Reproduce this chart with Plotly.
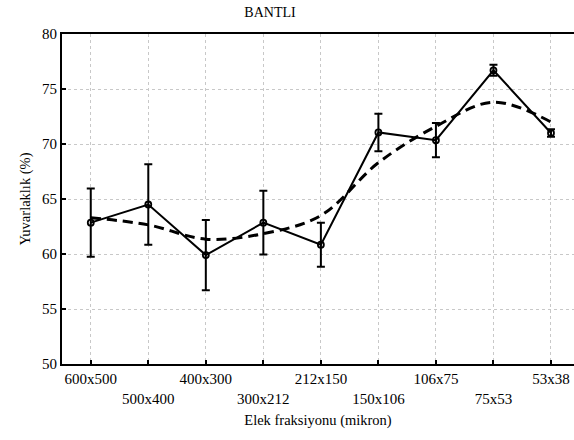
import plotly.graph_objects as go

categories = ["600x500", "500x400", "400x300", "300x212", "212x150",
              "150x106", "106x75", "75x53", "53x38"]
means = [62.85, 64.5, 59.9, 62.85, 60.85, 71.05, 70.35, 76.7, 71.0]
errors = [3.1, 3.65, 3.2, 2.9, 2.0, 1.7, 1.55, 0.5, 0.35]
fit = [63.3, 62.65, 61.35, 61.85, 63.5, 68.3, 71.6, 73.8, 72.0]
y_ticks = [50, 55, 60, 65, 70, 75, 80]

tick_text = [c if i % 2 == 0 else "<br>" + c for i, c in enumerate(categories)]
xs = list(range(len(categories)))

font = "Liberation Serif"

fig = go.Figure()
fig.add_trace(go.Scatter(
    x=xs, y=fit, mode="lines",
    line=dict(color="black", width=3, dash="10px,6px", shape="spline", smoothing=1.0),
    showlegend=False, hoverinfo="skip"))
fig.add_trace(go.Scatter(
    x=xs, y=means, mode="lines+markers",
    line=dict(color="black", width=2),
    marker=dict(symbol="circle-open", size=6, color="black", line=dict(width=1.8)),
    error_y=dict(type="data", array=errors, visible=True, color="black",
                 thickness=2, width=4),
    showlegend=False))

fig.update_layout(
    width=574, height=440,
    margin=dict(l=62, r=0, t=34, b=76),
    paper_bgcolor="white", plot_bgcolor="white",
    font=dict(family=font, size=15, color="black"),
    title=dict(text="BANTLI", x=270 / 574, xanchor="center", xref="container",
               y=1 - 12 / 440, yanchor="middle", yref="container",
               font=dict(family=font, size=14)),
)
fig.update_xaxes(
    range=[-0.5, 8.4], tickmode="array", tickvals=xs, ticktext=tick_text,
    showline=True, linecolor="black", linewidth=2, mirror=True,
    ticks="inside", ticklen=4, tickwidth=2, tickcolor="black",
    showgrid=True, gridcolor="#c8c8c8", griddash="dot", gridwidth=1,
    zeroline=False, tickfont=dict(family=font, size=15),
    title=dict(text="Elek fraksiyonu (mikron)", font=dict(family=font, size=14.5), standoff=9),
)
fig.update_yaxes(
    range=[50, 80], tickmode="array", tickvals=y_ticks,
    showline=True, linecolor="black", linewidth=2, mirror=False,
    ticks="inside", ticklen=4, tickwidth=2, tickcolor="black",
    showgrid=True, gridcolor="#c8c8c8", griddash="dot", gridwidth=1,
    zeroline=False, tickfont=dict(family=font, size=15),
    title=dict(text="Yuvarlaklık (%)", font=dict(family=font, size=14.5), standoff=8),
)

fig.write_html("out.html")
